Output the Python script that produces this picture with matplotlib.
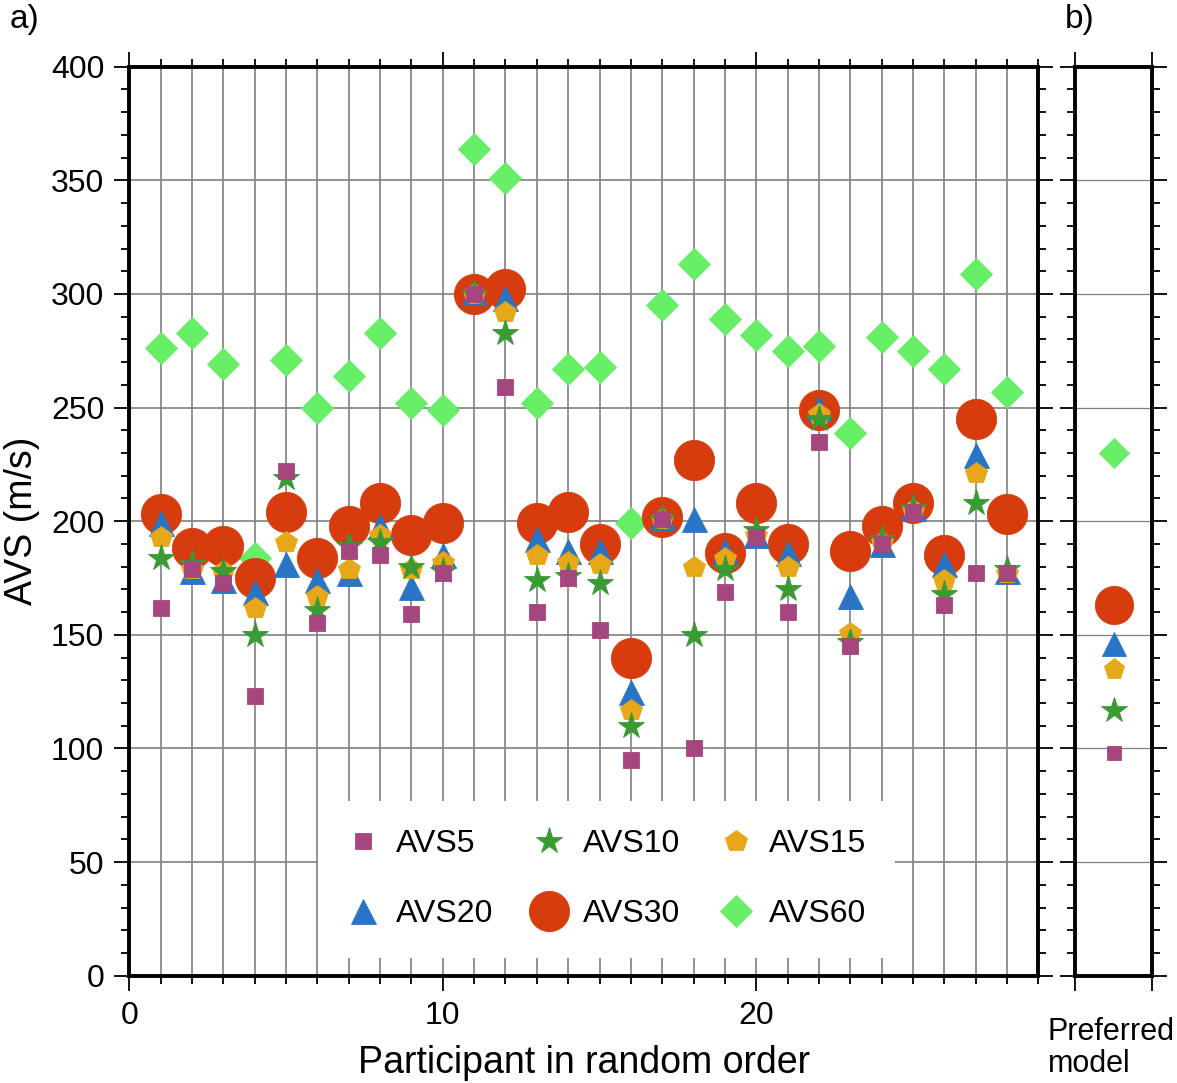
import matplotlib
matplotlib.use("Agg")
import matplotlib.pyplot as plt
from matplotlib.ticker import MultipleLocator

plt.rcParams['font.family'] = ['Liberation Sans', 'DejaVu Sans']

# participants in random order
participant = list(range(1, 29))

avs5 = [162, 179, 173, 123, 222, 155, 187, 185, 159, 177, 300, 259, 160, 175,
        152, 95, 201, 100, 169, 193, 160, 235, 145, 190, 204, 163, 177, 177]
avs10 = [184, 181, 178, 150, 219, 161, 189, 191, 180, 178, 300, 283, 174, 176,
         173, 110, 201, 150, 179, 196, 170, 245, 147, 192, 206, 168, 208, 179]
avs15 = [193, 179, 178, 162, 191, 167, 179, 194, 179, 182, 300, 292, 185, 182,
         181, 117, 201, 180, 184, 194, 180, 247, 151, 191, 205, 174, 221, 177]
avs20 = [199, 178, 174, 169, 181, 174, 177, 198, 171, 185, 301, 298, 192, 187,
         187, 125, 202, 201, 187, 194, 186, 250, 167, 190, 206, 181, 229, 178]
avs30 = [203, 188, 189, 175, 204, 184, 198, 208, 194, 199, 300, 302, 199, 204,
         190, 140, 202, 227, 186, 208, 190, 249, 187, 198, 208, 185, 245, 203]
avs60 = [276, 283, 269, 184, 271, 250, 264, 283, 252, 249, 364, 351, 252, 267,
         268, 199, 295, 313, 289, 282, 275, 277, 239, 281, 275, 267, 309, 257]

# preferred model (panel b)
pref_names = ['AVS5', 'AVS10', 'AVS15', 'AVS20', 'AVS30', 'AVS60']
pref_values = [98, 117, 135, 146, 163, 230]

# drawing order: AVS60 at the back, AVS5 on top
styles = {
    'AVS60': dict(marker='D', color='#66ee66', ms=16),
    'AVS30': dict(marker='o', color='#d63c0e', ms=29),
    'AVS20': dict(marker='^', color='#2a74c6', ms=18),
    'AVS15': dict(marker='p', color='#e6a818', ms=16),
    'AVS10': dict(marker='*', color='#3a9a34', ms=20),
    'AVS5': dict(marker='s', color='#a6467f', ms=11),
}
series = {'AVS60': avs60, 'AVS30': avs30, 'AVS20': avs20,
          'AVS15': avs15, 'AVS10': avs10, 'AVS5': avs5}

fig = plt.figure(figsize=(11.77, 10.83), dpi=100)
ax = fig.add_axes([0.1099, 0.0991, 0.7723, 0.8393])
axb = fig.add_axes([0.9133, 0.0991, 0.0657, 0.8393])

grid_kw = dict(color='#808080', linewidth=1.2)
spine_w = 2.8


def style_ticks(a):
    a.tick_params(which='major', direction='out', length=11, width=1.3,
                  top=True, right=True, labelsize=23, pad=7)
    a.tick_params(which='minor', direction='out', length=5.5, width=1.3,
                  top=True, right=True)
    for s in a.spines.values():
        s.set_linewidth(spine_w)


handles = {}
for name in ['AVS60', 'AVS30', 'AVS20', 'AVS15', 'AVS10', 'AVS5']:
    st = styles[name]
    h, = ax.plot(participant, series[name], linestyle='none', marker=st['marker'],
                 color=st['color'], markersize=st['ms'], markeredgewidth=0.6,
                 markeredgecolor=st['color'], label=name)
    handles[name] = h
    axb.plot([0.5], [pref_values[pref_names.index(name)]], linestyle='none',
             marker=st['marker'], color=st['color'], markersize=st['ms'] * 0.95,
             markeredgewidth=0.6, markeredgecolor=st['color'])

ax.set_xlim(0, 29)
ax.set_ylim(0, 400)
ax.xaxis.set_major_locator(MultipleLocator(10))
ax.xaxis.set_minor_locator(MultipleLocator(1))
ax.yaxis.set_major_locator(MultipleLocator(50))
ax.yaxis.set_minor_locator(MultipleLocator(10))
ax.set_axisbelow(True)
ax.grid(axis='x', which='both', **grid_kw)
ax.grid(axis='y', which='major', **grid_kw)
style_ticks(ax)
ax.tick_params(labeltop=False, labelright=False)
ax.set_xlabel('Participant in random order', fontsize=27, labelpad=10)
ax.set_ylabel('AVS (m/s)', fontsize=27, labelpad=8)

order = ['AVS5', 'AVS20', 'AVS10', 'AVS30', 'AVS15', 'AVS60']
leg = ax.legend([handles[n] for n in order], order, ncol=3, loc='lower left',
                bbox_to_anchor=(0.2076, 0.0195, 0.635, 0.174), mode='expand',
                borderaxespad=0, fontsize=23, frameon=True, facecolor='white',
                edgecolor='none', framealpha=1, fancybox=False, borderpad=0.9,
                labelspacing=1.25, handlelength=1.0, handletextpad=0.55,
                numpoints=1)

axb.set_xlim(0, 1)
axb.set_ylim(0, 400)
axb.set_xticks([0, 1])
axb.yaxis.set_major_locator(MultipleLocator(50))
axb.yaxis.set_minor_locator(MultipleLocator(10))
axb.set_axisbelow(True)
axb.grid(axis='y', which='major', color='#808080', linewidth=0.9)
style_ticks(axb)
axb.tick_params(labelbottom=False, labelleft=False)

fig.text(0.008, 0.982, 'a)', fontsize=24, va='center', ha='left')
fig.text(0.905, 0.982, 'b)', fontsize=24, va='center', ha='left')
fig.text(0.944, 0.032, 'Preferred\nmodel', fontsize=22, va='center',
         ha='center', multialignment='left', linespacing=1.1)

fig.savefig('out.png', dpi=100)
